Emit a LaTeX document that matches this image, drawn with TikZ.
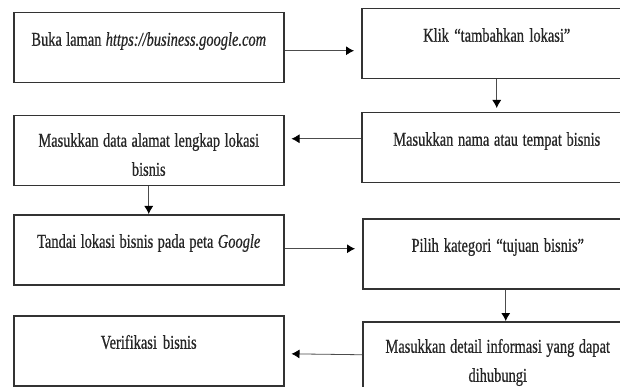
\documentclass[tikz,border=0pt]{standalone}
\usepackage{fontspec}
\setmainfont[FakeStretch=0.74,FakeBold=0.6]{Liberation Serif}
\usepackage{xcolor}
\usetikzlibrary{arrows.meta,positioning}
\definecolor{boxline}{gray}{0.2}
\definecolor{arrowline}{gray}{0.3}
\tikzset{%
	flowbox/.style = {draw=boxline, line width=1.5pt, rectangle, anchor=north west, inner sep=0pt, minimum width=270pt, text width=258pt, align=center, text height=33pt, text depth=37pt, font=\fontsize{19.5pt}{29pt}\selectfont, execute at begin node={\spaceskip=4pt plus 1pt\relax}, text=black!85},
	twoline/.style = {text height=31pt, text depth=39pt},
	arrow/.style   = {draw=arrowline, line width=0.8pt, -{Latex[length=8pt,width=9pt,color=black]}, shorten >=7pt},
}
\begin{document}
\begin{tikzpicture}[x=1pt,y=-1pt]
	\useasboundingbox (0,0) rectangle (620,387);
	\clip (0,0) rectangle (620,387);
	\fill[white] (0,0) rectangle (620,387);
	
	% left column
	\node[flowbox] (buka) at (13,12) {Buka laman \textit{https://business.google.com}};
	\node[flowbox,twoline] (data) at (13,115) {Masukkan data alamat lengkap lokasi\\ bisnis};
	\node[flowbox] (tandai) at (13,214) {Tandai lokasi bisnis pada peta \textit{Google}};
	\node[flowbox] (verif) at (13,315) {Verifikasi bisnis};
	
	% right column
	\node[flowbox] (klik) at (361,8) {Klik “tambahkan lokasi”};
	\node[flowbox] (nama) at (361,112) {Masukkan nama atau tempat bisnis};
	\node[flowbox] (pilih) at (362,218) {Pilih kategori “tujuan bisnis”};
	\node[flowbox,twoline,text depth=49pt] (detail) at (362,321) {Masukkan detail informasi yang dapat\\ dihubungi};
	
	\draw[arrow] ([yshift=-3pt]buka.east) -- ([yshift=-7pt]klik.west);
	\draw[arrow,shorten >=4pt] (klik.south) -- (nama.north);
	\draw[arrow] ([yshift=9pt]nama.west) -- ([yshift=12pt]data.east);
	\draw[arrow,shorten >=0pt] (data.south) -- (tandai.north);
	\draw[arrow] ([yshift=1pt]tandai.east) -- ([yshift=5pt]pilih.west);
	\draw[arrow,shorten >=0pt] ([xshift=8pt]pilih.south) -- ([xshift=8pt]detail.north);
	\draw[arrow] ([yshift=7pt]detail.west) -- ([yshift=-3pt]verif.east);
	
\end{tikzpicture}
\end{document}
